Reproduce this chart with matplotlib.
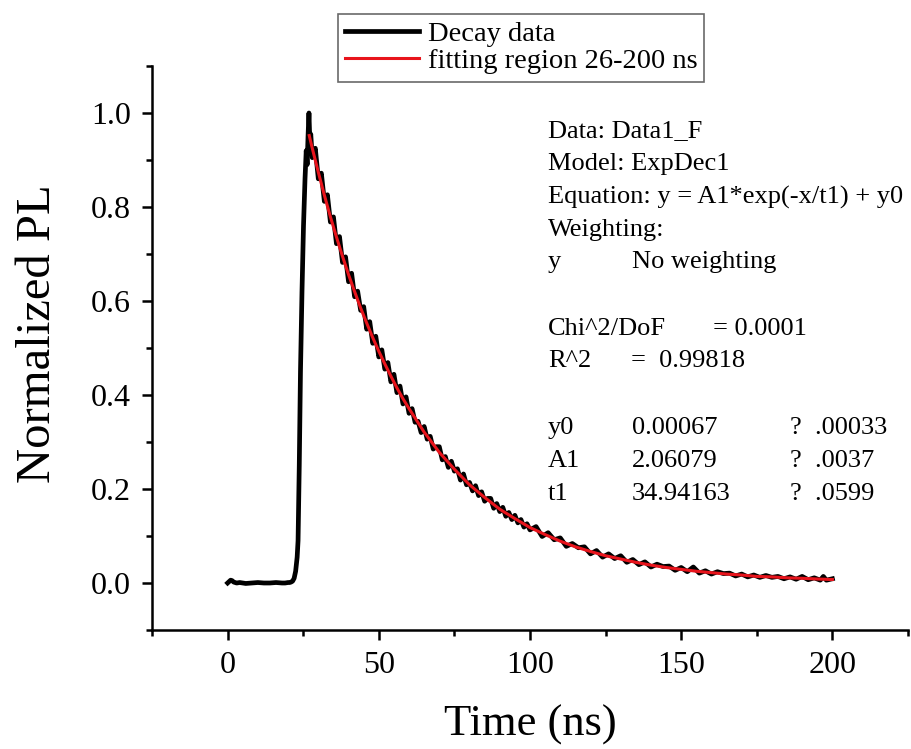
import numpy as np
import matplotlib
matplotlib.use('Agg')
import matplotlib.pyplot as plt
from matplotlib.ticker import MultipleLocator

plt.rcParams['font.family'] = ['Liberation Serif', 'DejaVu Serif']

decay_t = [0, 0.5, 1, 1.5, 2, 2.5, 3, 4, 6, 8, 10, 12, 14, 16, 18, 19, 20, 20.5, 21, 21.5,
           22, 22.5, 23, 23.3, 23.7, 24.1, 24.6, 25.1, 25.6, 26.0, 26.3, 26.6, 26.9, 27.2, 27.5,
           28, 29, 30, 31, 32, 33, 34, 35, 36, 37, 38, 39, 40, 41, 42, 43, 44, 45, 46, 47,
           48, 49, 50, 51, 52, 53, 54, 55, 56, 57, 58, 59, 60,
           61, 62, 63, 64, 65, 66, 67, 68, 69, 70, 71, 72, 73, 74, 75, 76, 77, 78, 79, 80,
           81, 82, 83, 84, 85, 86, 87, 88, 89, 90, 91, 92, 93, 94, 95, 96, 97, 98, 99, 100,
           102, 104, 106, 108, 110, 112, 114, 116, 118, 120, 122, 124, 126, 128, 130, 132, 134,
           136, 138, 140, 142, 144, 146, 148, 150, 152, 154, 156, 158, 160, 162, 164, 166, 168,
           170, 172, 174, 176, 178, 180, 182, 184, 186, 188, 190, 192, 194, 196, 197, 198, 200]
decay_pl = [0.000, 0.003, 0.006, 0.005, 0.002, 0.001, 0.000, 0.001, -0.001, 0.000, 0.001, 0.000,
            0.000, 0.001, 0.000, 0.000, 0.001, 0.001, 0.002, 0.004,
            0.010, 0.025, 0.055, 0.09, 0.25, 0.45, 0.62, 0.76, 0.86, 0.92, 0.89, 0.95, 1.0, 0.94, 0.955,
            0.905, 0.925, 0.860, 0.872, 0.812, 0.826, 0.768, 0.779, 0.722, 0.737, 0.682, 0.694, 0.641,
            0.659, 0.609, 0.621, 0.580, 0.588, 0.540, 0.556, 0.510, 0.525, 0.481, 0.496, 0.455,
            0.469, 0.428, 0.444, 0.405, 0.419, 0.381, 0.396, 0.361,
            0.371, 0.342, 0.344, 0.320, 0.333, 0.306, 0.312, 0.285, 0.290, 0.290, 0.262, 0.269,
            0.246, 0.259, 0.238, 0.243, 0.219, 0.232, 0.209, 0.214,
            0.196, 0.207, 0.186, 0.194, 0.174, 0.180, 0.180, 0.159, 0.169, 0.152, 0.161, 0.142,
            0.150, 0.135, 0.144, 0.128, 0.135, 0.119, 0.126, 0.113,
            0.120, 0.099, 0.107, 0.092, 0.096, 0.078, 0.084, 0.075, 0.077, 0.062, 0.069, 0.055,
            0.062, 0.052, 0.058, 0.044, 0.050, 0.039, 0.045, 0.034, 0.040, 0.035, 0.036, 0.027,
            0.033, 0.024, 0.034, 0.021, 0.026, 0.019, 0.024, 0.020, 0.021, 0.015,
            0.019, 0.013, 0.017, 0.012, 0.016, 0.012, 0.014, 0.009, 0.013, 0.008, 0.014, 0.007,
            0.011, 0.006, 0.014, 0.006, 0.009]

# fitted ExpDec1 curve, 26-200 ns
fit_t = [27, 28, 30, 32, 34, 36, 38, 40, 42, 44, 46, 48, 50, 52, 54, 56, 58, 60,
         65, 70, 75, 80, 85, 90, 95, 100, 105, 110, 115, 120, 125, 130, 135, 140, 145,
         150, 155, 160, 165, 170, 175, 180, 185, 190, 195, 200]
fit_pl = [0.952, 0.925, 0.874, 0.825, 0.779, 0.736, 0.695, 0.656, 0.620, 0.585, 0.553, 0.522,
          0.493, 0.466, 0.440, 0.415, 0.392, 0.371,
          0.321, 0.278, 0.242, 0.209, 0.182, 0.157, 0.137, 0.118, 0.103, 0.089, 0.077, 0.067,
          0.058, 0.051, 0.044, 0.038, 0.033, 0.029, 0.025, 0.022, 0.019, 0.017, 0.014, 0.013,
          0.011, 0.010, 0.0085, 0.0074]

info_lines = [
    (131, [(548, 'Data: Data1_F')]),
    (164, [(548, 'Model: ExpDec1')]),
    (197, [(548, 'Equation: y = A1*exp(-x/t1) + y0')]),
    (230, [(548, 'Weighting:')]),
    (262, [(548, 'y'), (632, 'No weighting')]),
    (329, [(548, 'Chi^2/DoF'), (713, '= 0.0001')]),
    (361, [(548, 'R^2'), (631, '=  0.99818')]),
    (428, [(548, 'y0'), (632, '0.00067'), (790, '?  .00033')]),
    (461, [(548, 'A1'), (632, '2.06079'), (790, '?  .0037')]),
    (494, [(548, 't1'), (632, '34.94163'), (790, '?  .0599')]),
]

W, H = 911, 749
fig = plt.figure(figsize=(W / 100, H / 100), dpi=100)
ax = fig.add_axes([152 / W, 1 - 630 / H, (908 - 152) / W, (630 - 66) / H])

ax.plot(decay_t, decay_pl, color='black', lw=3.4, label='Decay data')
ax.plot(fit_t, fit_pl, color='#e8141c', lw=2.2, label='fitting region 26-200 ns')

ax.set_xlim(-25, 225)
ax.set_ylim(-0.1, 1.1)
ax.xaxis.set_major_locator(MultipleLocator(50))
ax.xaxis.set_minor_locator(MultipleLocator(25))
ax.yaxis.set_major_locator(MultipleLocator(0.2))
ax.yaxis.set_minor_locator(MultipleLocator(0.1))
ax.set_xticks([0, 50, 100, 150, 200])
ax.set_yticks([0.0, 0.2, 0.4, 0.6, 0.8, 1.0])
ax.set_yticklabels(['0.0', '0.2', '0.4', '0.6', '0.8', '1.0'])

for s in ['top', 'right']:
    ax.spines[s].set_visible(False)
for s in ['left', 'bottom']:
    ax.spines[s].set_linewidth(1.8)
ax.tick_params(which='major', direction='out', length=7, width=1.8, labelsize=23, pad=8)
ax.tick_params(which='minor', direction='out', length=4.5, width=1.8)

ax.set_xlabel('Time (ns)', fontsize=32)
ax.set_ylabel('Normalized PL', fontsize=35)
ax.xaxis.set_label_coords(0.5, 1 - (705 - 66) / (630 - 66), transform=ax.transAxes)
ax.yaxis.set_label_coords((60 - 152) / (908 - 152), 0.525, transform=ax.transAxes)

leg = ax.legend(loc='upper left', bbox_to_anchor=(338 / W, 1 - 14 / H), bbox_transform=fig.transFigure,
                fontsize=20.5, frameon=True, fancybox=False, borderaxespad=0, handlelength=2.6,
                handletextpad=0.3, labelspacing=0.05, borderpad=0.25)
leg.get_frame().set_edgecolor('#444444')
leg.get_frame().set_linewidth(1.2)

for y, items in info_lines:
    for x, txt in items:
        fig.text(x / W, 1 - y / H, txt, fontsize=19, ha='left', va='center')

fig.savefig('out.png', dpi=100)
